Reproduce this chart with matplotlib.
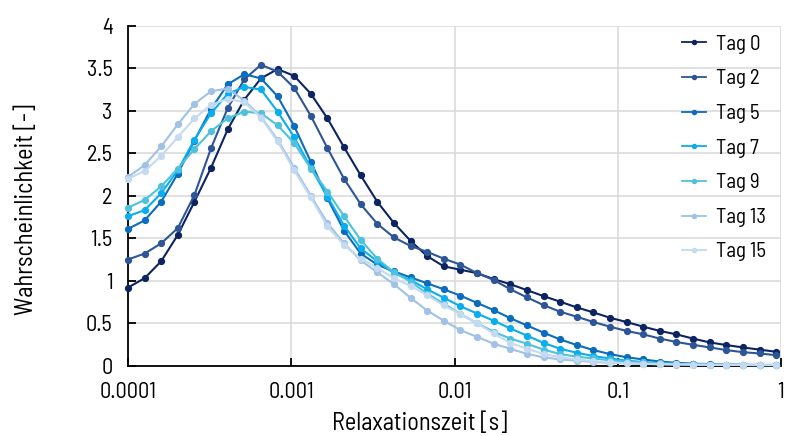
import matplotlib
matplotlib.use("Agg")
import matplotlib.pyplot as plt
from matplotlib.ticker import FixedLocator, FuncFormatter, NullLocator

# relaxation times (s) of the distribution bins
relax_time = [1.000e-4, 1.264e-4, 1.598e-4, 2.020e-4, 2.554e-4, 3.228e-4, 4.081e-4, 5.160e-4,
              6.523e-4, 8.247e-4, 1.042e-3, 1.318e-3, 1.666e-3, 2.106e-3, 2.663e-3, 3.365e-3,
              4.254e-3, 5.378e-3, 6.800e-3, 8.596e-3, 1.087e-2, 1.374e-2, 1.737e-2, 2.196e-2,
              2.775e-2, 3.508e-2, 4.435e-2, 5.607e-2, 7.088e-2, 8.960e-2, 0.1132, 0.1432,
              0.1810, 0.2288, 0.2892, 0.3656, 0.4622, 0.5843, 0.7386, 0.9337]

tag0 = [0.92, 1.03, 1.23, 1.54, 1.93, 2.33, 2.78, 3.13, 3.38, 3.49,
        3.41, 3.20, 2.91, 2.57, 2.24, 1.93, 1.68, 1.47, 1.29, 1.17,
        1.13, 1.09, 1.02, 0.96, 0.89, 0.82, 0.754, 0.687, 0.628, 0.565,
        0.515, 0.46, 0.41, 0.37, 0.32, 0.275, 0.244, 0.216, 0.19, 0.165]
tag2 = [1.25, 1.32, 1.44, 1.62, 2.01, 2.56, 3.03, 3.37, 3.54, 3.46,
        3.27, 2.94, 2.56, 2.20, 1.90, 1.67, 1.51, 1.41, 1.34, 1.26,
        1.19, 1.09, 1.01, 0.90, 0.805, 0.714, 0.636, 0.577, 0.515, 0.46,
        0.41, 0.37, 0.32, 0.28, 0.247, 0.216, 0.185, 0.16, 0.145, 0.125]
tag5 = [1.61, 1.71, 1.93, 2.26, 2.65, 3.02, 3.31, 3.43, 3.38, 3.17,
        2.82, 2.40, 1.97, 1.59, 1.32, 1.19, 1.11, 1.04, 0.97, 0.90,
        0.825, 0.74, 0.655, 0.56, 0.475, 0.39, 0.31, 0.244, 0.185, 0.138,
        0.10, 0.075, 0.05, 0.035, 0.025, 0.02, 0.015, 0.012, 0.01, 0.01]
tag7 = [1.76, 1.83, 2.03, 2.30, 2.66, 2.97, 3.20, 3.28, 3.25, 2.99,
        2.69, 2.33, 1.99, 1.65, 1.38, 1.23, 1.09, 1.01, 0.90, 0.80,
        0.70, 0.615, 0.53, 0.44, 0.355, 0.27, 0.20, 0.154, 0.114, 0.087,
        0.06, 0.045, 0.032, 0.024, 0.018, 0.014, 0.011, 0.01, 0.008, 0.008]
tag9 = [1.86, 1.95, 2.11, 2.32, 2.55, 2.76, 2.91, 2.99, 2.97, 2.83,
        2.62, 2.32, 2.05, 1.76, 1.48, 1.26, 1.10, 0.99, 0.85, 0.73,
        0.61, 0.50, 0.40, 0.32, 0.26, 0.19, 0.138, 0.107, 0.087, 0.065,
        0.05, 0.04, 0.03, 0.022, 0.017, 0.013, 0.011, 0.01, 0.008, 0.008]
tag13 = [2.22, 2.36, 2.58, 2.84, 3.08, 3.23, 3.26, 3.12, 2.93, 2.66,
         2.33, 2.00, 1.68, 1.44, 1.24, 1.10, 0.96, 0.80, 0.65, 0.53,
         0.42, 0.34, 0.26, 0.20, 0.14, 0.10, 0.075, 0.06, 0.045, 0.035,
         0.028, 0.022, 0.018, 0.015, 0.013, 0.012, 0.011, 0.01, 0.01, 0.01]
tag15 = [2.20, 2.29, 2.47, 2.69, 2.91, 3.07, 3.14, 3.10, 2.92, 2.64,
         2.30, 1.98, 1.64, 1.42, 1.26, 1.15, 1.03, 0.94, 0.83, 0.71,
         0.61, 0.50, 0.38, 0.27, 0.20, 0.14, 0.10, 0.075, 0.055, 0.04,
         0.03, 0.024, 0.019, 0.016, 0.014, 0.012, 0.011, 0.01, 0.01, 0.01]

labels = ["Tag 0", "Tag 2", "Tag 5", "Tag 7", "Tag 9", "Tag 13", "Tag 15"]
colors = ["#0c2461", "#2e5596", "#0c6cbd", "#0aaeee", "#4ec2dc", "#9fc2e6", "#c3daf0"]
series = [tag0, tag2, tag5, tag7, tag9, tag13, tag15]

x_ticks = [0.0001, 0.001, 0.01, 0.1, 1]
x_ticklabels = ["0.0001", "0.001", "0.01", "0.1", "1"]
y_ticks = [0, 0.5, 1, 1.5, 2, 2.5, 3, 3.5, 4]

plt.rcParams["font.family"] = ["Barlow Semi Condensed", "Roboto", "DejaVu Sans"]
plt.rcParams["font.weight"] = "normal"

fig = plt.figure(figsize=(7.85, 4.36), dpi=100)
ax = fig.add_axes([0.163, 0.161, 0.832, 0.780])

for vals, lab, col in zip(series, labels, colors):
    ax.plot(relax_time, vals, color=col, lw=1.5, marker="o", ms=4.2,
            label=lab, clip_on=False, zorder=3)

ax.set_xscale("log")
ax.set_xlim(1e-4, 1)
ax.set_ylim(0, 4)
ax.xaxis.set_major_locator(FixedLocator(x_ticks))
ax.xaxis.set_minor_locator(NullLocator())
ax.set_xticklabels(x_ticklabels)
ax.yaxis.set_major_locator(FixedLocator(y_ticks))
ax.yaxis.set_major_formatter(FuncFormatter(lambda v, p: f"{v:g}"))

ax.grid(True, color="#d9d9d9", lw=1.1)
ax.set_axisbelow(True)
for s in ["top", "right"]:
    ax.spines[s].set_visible(False)
for s in ["left", "bottom"]:
    ax.spines[s].set_color("black")
    ax.spines[s].set_linewidth(1.3)
ax.tick_params(direction="in", length=6, width=1.3, labelsize=16, colors="black")
ax.tick_params(axis="x", pad=12)
ax.tick_params(axis="y", pad=11)

ax.set_xlabel("Relaxationszeit [s]", fontsize=17.5)
ax.set_ylabel("Wahrscheinlichkeit [-]", fontsize=17.5)
ax.xaxis.set_label_coords(0.447, -0.135)
ax.yaxis.set_label_coords(-0.137, 0.458)

leg = ax.legend(loc="upper left", bbox_to_anchor=(0.836, 0.998), borderaxespad=0,
                frameon=False, fontsize=15, handlelength=1.15, handletextpad=0.48,
                labelspacing=0.75, markerscale=0.7)
for h in leg.legend_handles:
    h.set_linewidth(1.3)

fig.savefig("out.png", dpi=100)
